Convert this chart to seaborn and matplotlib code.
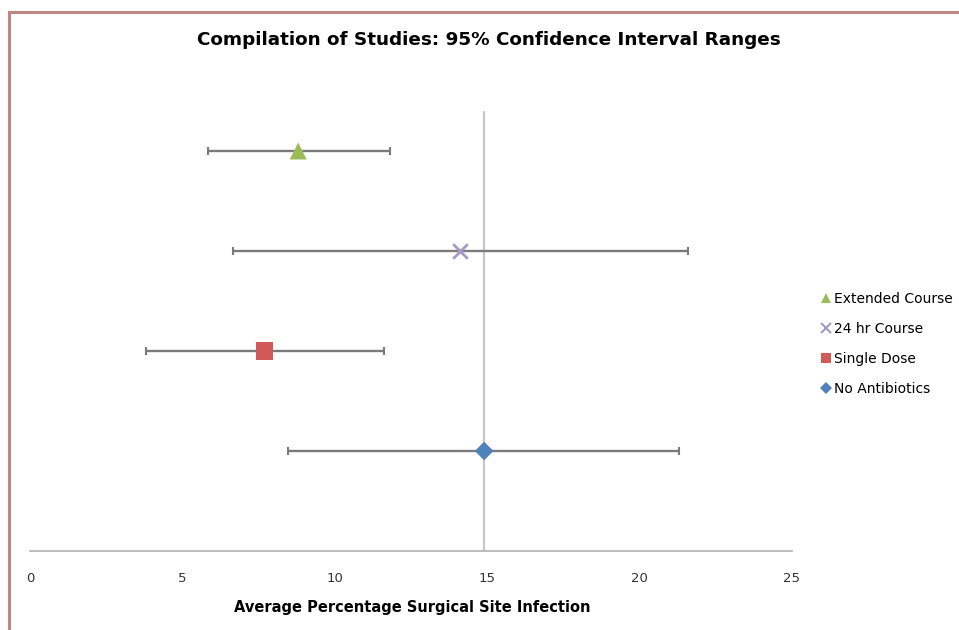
import matplotlib
matplotlib.use("Agg")
import matplotlib.pyplot as plt
from matplotlib.lines import Line2D
from matplotlib.patches import Rectangle
import seaborn as sns
import pandas as pd

groups = ["Extended Course", "24 hr Course", "Single Dose", "No Antibiotics"]
means = [8.8, 14.1, 7.7, 14.9]
lower = [5.85, 6.65, 3.8, 8.45]
upper = [11.8, 21.6, 11.6, 21.3]
rows = [4, 3, 2, 1]
ref_value = 14.9
x_ticks = [0, 5, 10, 15, 20, 25]

colors = {"Extended Course": "#9BBB59", "24 hr Course": "#A39BC6",
          "Single Dose": "#D05A57", "No Antibiotics": "#4F81BD"}
markers = {"Extended Course": "^", "24 hr Course": "x",
           "Single Dose": "s", "No Antibiotics": "D"}
sizes = {"Extended Course": 150, "24 hr Course": 110,
         "Single Dose": 150, "No Antibiotics": 90}

df = pd.DataFrame({"group": groups, "mean": means, "lo": lower,
                   "hi": upper, "row": rows})

sns.set_style("white")
plt.rcParams["font.family"] = ["DejaVu Sans"]

fig = plt.figure(figsize=(9.59, 6.30), dpi=100)
ax = fig.add_axes([30 / 959, 79 / 630, 762 / 959, 500 / 630])

# reference vertical line
ax.plot([ref_value, ref_value], [0, 4.39], color="#c8c8c8", lw=1.6, zorder=1)

# error bars
for _, r in df.iterrows():
    ax.errorbar(r["mean"], r["row"],
                xerr=[[r["mean"] - r["lo"]], [r["hi"] - r["mean"]]],
                fmt="none", ecolor="#7a7a7a", elinewidth=1.7, capsize=3,
                capthick=1.5, zorder=2)

for g in groups:
    sub = df[df["group"] == g]
    sns.scatterplot(data=sub, x="mean", y="row", ax=ax, marker=markers[g],
                    color=colors[g], s=sizes[g],
                    linewidth=(2 if markers[g] == "x" else 0),
                    edgecolor=("none" if markers[g] != "x" else None),
                    zorder=3, legend=False)

ax.set_xlim(0, 25)
ax.set_ylim(0, 5)
ax.set_xticks(x_ticks)
ax.set_xticklabels([str(t) for t in x_ticks])
ax.set_yticks([])
ax.set_ylabel("")
for s in ["top", "right", "left"]:
    ax.spines[s].set_visible(False)
ax.spines["bottom"].set_color("#b0b0b0")
ax.spines["bottom"].set_linewidth(1.2)
ax.tick_params(axis="x", direction="out", length=5, width=1.0,
               color="#b0b0b0", labelsize=9.5, labelcolor="#333333", pad=10)
ax.set_xlabel("Average Percentage Surgical Site Infection", fontsize=10.5,
              fontweight="bold", color="black")
ax.xaxis.set_label_coords((412 - 30) / 762, -(600 - 551) / 500)

fig.text(489 / 959, 1 - 40 / 630,
         "Compilation of Studies: 95% Confidence Interval Ranges",
         ha="center", va="center", fontsize=13.2, fontweight="bold",
         color="black")

handles = [Line2D([], [], linestyle="none", marker=markers[g],
                  color=colors[g], markersize=6.5,
                  markeredgewidth=(1.5 if markers[g] == "x" else 0))
           for g in groups]
fig.legend(handles, groups, loc="upper left",
           bbox_to_anchor=(822 / 959, 1 - 292 / 630), frameon=False,
           fontsize=10, handlelength=0.6, handletextpad=0.25,
           labelspacing=1.15, borderaxespad=0, borderpad=0,
           labelcolor="black")

fig.add_artist(Rectangle((9 / 959, -0.1), 1.2, (630 - 12) / 630 + 0.1,
                         transform=fig.transFigure, fill=False,
                         edgecolor="#c08686", lw=2.2))

fig.savefig("out.png", dpi=100)
